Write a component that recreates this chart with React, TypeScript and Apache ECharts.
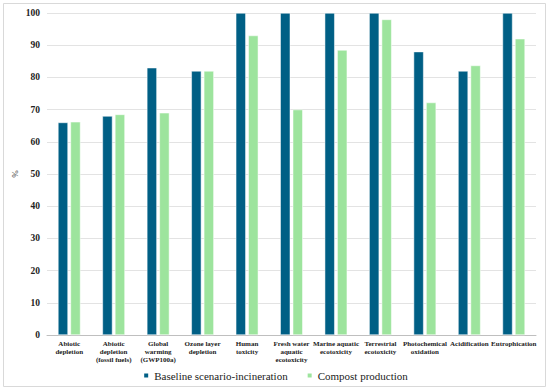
import React, { useEffect, useRef } from "react";
import * as echarts from "echarts";

const categories = [
  "Abiotic\ndepletion",
  "Abiotic\ndepletion\n(fossil fuels)",
  "Global\nwarming\n(GWP100a)",
  "Ozone layer\ndepletion",
  "Human\ntoxicity",
  "Fresh water\naquatic\necotoxicity",
  "Marine aquatic\necotoxicity",
  "Terrestrial\necotoxicity",
  "Photochemical\noxidation",
  "Acidification",
  "Eutrophication",
];
const baseline = [66, 68, 83, 82, 100, 100, 100, 100, 88, 82, 100];
const compost = [66.2, 68.5, 69, 82, 93, 70, 88.5, 98, 72.2, 83.7, 92];
const seriesNames = ["Baseline scenario-incineration", "Compost production"];

const FONT = "'Liberation Serif', 'DejaVu Serif', serif";

export default function App() {
  const ref = useRef<HTMLDivElement>(null);
  useEffect(() => {
    if (!ref.current) return;
    const chart = echarts.init(ref.current, undefined, { renderer: "svg" });
    chart.setOption({
      animation: false,
      backgroundColor: "#ffffff",
      textStyle: { fontFamily: FONT },
      graphic: [
        {
          type: "rect",
          shape: { x: 3.5, y: 3.5, width: 542, height: 383 },
          style: { fill: "none", stroke: "#d9d9d9", lineWidth: 1 },
        },
      ],
      grid: { left: 47, right: 14, top: 13, bottom: 56, containLabel: false },
      legend: {
        top: 365,
        left: "center",
        itemWidth: 6,
        itemHeight: 6,
        itemGap: 18,
        icon: "rect",
        textStyle: { fontFamily: FONT, fontSize: 11, color: "#222" },
        data: seriesNames,
      },
      xAxis: {
        type: "category",
        data: categories,
        axisTick: { show: false },
        axisLine: { lineStyle: { color: "#bfbfbf" } },
        axisLabel: {
          interval: 0,
          fontFamily: FONT,
          fontSize: 7,
          fontWeight: "bold",
          color: "#222",
          lineHeight: 7.8,
          margin: 5,
        },
      },
      yAxis: {
        type: "value",
        min: 0,
        max: 100,
        interval: 10,
        name: "%",
        nameLocation: "middle",
        nameGap: 28,
        nameMoveOverlap: false,
        nameTextStyle: { fontFamily: FONT, fontSize: 9, color: "#444" },
        axisLine: { show: false },
        axisTick: { show: false },
        axisLabel: { fontFamily: FONT, fontSize: 9.5, fontWeight: "bold", color: "#222", margin: 7 },
        splitLine: { lineStyle: { color: "#e3e3e3" } },
      },
      series: [
        {
          name: seriesNames[0],
          type: "bar",
          data: baseline,
          barWidth: 10,
          barGap: "25%",
          itemStyle: { color: "#005f85", borderColor: "#ffffff", borderWidth: 0.5 },
        },
        {
          name: seriesNames[1],
          type: "bar",
          data: compost,
          barWidth: 10,
          barGap: "25%",
          itemStyle: { color: "#9de49d", borderColor: "#ffffff", borderWidth: 0.5 },
        },
      ],
    });
    return () => chart.dispose();
  }, []);
  return (
    <div
      ref={ref}
      style={{ position: "fixed", left: 0, top: 0, width: 550, height: 391 }}
    />
  );
}
